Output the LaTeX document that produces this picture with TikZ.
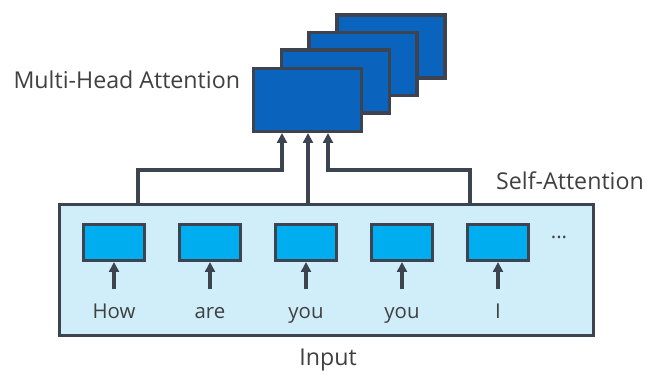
\documentclass[tikz,border=0pt]{standalone}
\usepackage{fontspec}
\setmainfont{Open Sans}
\usepackage{tkz-euclide}
\usetikzlibrary{arrows.meta}

\definecolor{lineGray}{HTML}{3B4450}
\definecolor{headBlue}{HTML}{0A64BE}
\definecolor{tokBlue}{HTML}{00AEEF}
\definecolor{inFill}{HTML}{CFEEFA}
\definecolor{txtGray}{HTML}{404040}

\tikzset{
  head/.style={draw=lineGray,line width=2.2pt,fill=headBlue,inner sep=0pt,
    minimum width=2.7cm,minimum height=1.575cm},
  tok/.style={draw=lineGray,line width=2.2pt,fill=tokBlue,inner sep=0pt,
    minimum width=1.525cm,minimum height=0.9cm},
  word/.style={text=txtGray,font=\fontsize{14.5}{17}\selectfont},
  lbl/.style={text=txtGray,font=\fontsize{16.5}{19}\selectfont},
  link/.style={draw=lineGray,line width=2.2pt},
  tip/.style={link,-{Triangle[length=7pt,width=7pt]}}
}

\begin{document}
\begin{tikzpicture}[x=0.025cm,y=-0.025cm]
\useasboundingbox (0,0) rectangle (648,382);

% the heads, back to front
\node[head] (H4) at (391,46.5) {};
\node[head] (H3) at (363,64) {};
\node[head] (H2) at (335.5,81.5) {};
\node[head] (H1) at (307.5,100) {};

\node[lbl,anchor=east] (MH) at (245,80) {Multi-Head Attention};

% input block
\node[draw=lineGray,line width=2.2pt,fill=inFill,inner sep=0pt,
  minimum width=13.35cm,minimum height=3.275cm] (IN) at (326.5,270) {};

\node[lbl] (SA) at (570,181) {Self-Attention};
\node[lbl] (INP) at (328,360) {Input};

% tokens
\foreach \nm/\x/\w in {A/114/How,B/210/are,C/306/you,D/402/you,E/498/I}{
  \node[tok] (t\nm) at (\x,242.5) {};
  \node[word,anchor=base] (w\nm) at (\x,318) {\w};
  \tkzDefPoint(\x,289){b\nm}
  \draw[tip] (b\nm) -- (t\nm.south);
}
\node[word] (dots) at (559,237) {...};

% connectors to the heads
\tkzDefPoint(138,204){tL}
\tkzDefPoint(138,170){tLb}
\tkzDefPoint(282,170){tLc}
\tkzDefPoint(282,133){tLd}
\draw[tip] (tL) -- (tLb) -- (tLc) -- (tLd);

\tkzDefPoint(308,204){tM}
\tkzDefPoint(308,133){tMd}
\draw[tip] (tM) -- (tMd);

\tkzDefPoint(470,204){tR}
\tkzDefPoint(470,170){tRb}
\tkzDefPoint(328,170){tRc}
\tkzDefPoint(328,133){tRd}
\draw[tip] (tR) -- (tRb) -- (tRc) -- (tRd);

\end{tikzpicture}
\end{document}
